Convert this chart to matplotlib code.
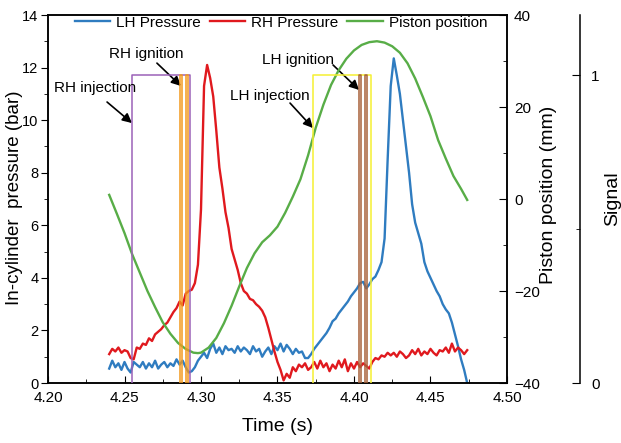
import numpy as np
import matplotlib
matplotlib.use("Agg")
import matplotlib.pyplot as plt
from matplotlib.ticker import MultipleLocator

plt.rcParams['font.family'] = ['Liberation Sans', 'DejaVu Sans']

# sampling times of the two pressure traces (s)
time = np.round(4.240 + 0.002 * np.arange(118), 3)

lh_pressure = [
    0.55, 0.85, 0.6, 0.75, 0.5, 0.8, 0.55, 0.4, 0.8, 0.7,
    0.6, 0.8, 0.55, 0.75, 0.6, 0.85, 0.55, 0.7, 0.8, 0.6,
    0.75, 0.65, 0.9, 0.7, 0.85, 0.6, 0.4, 0.45, 0.6, 0.85,
    1.0, 1.15, 0.95, 1.3, 1.5, 1.15, 1.35, 1.1, 1.4, 1.25,
    1.3, 1.15, 1.4, 1.2, 1.35, 1.25, 1.1, 1.4, 1.2, 1.3,
    1.0, 1.2, 1.35, 1.1, 1.4, 1.25, 1.5, 1.2, 1.45, 1.3,
    1.1, 1.3, 1.15, 1.2, 0.95, 0.95, 1.1, 1.3, 1.45, 1.6,
    1.75, 1.9, 2.1, 2.35, 2.45, 2.65, 2.8, 2.95, 3.1, 3.3,
    3.45, 3.6, 3.8, 3.85, 3.6, 3.75, 3.95, 4.05, 4.3, 4.6,
    5.5, 8.5, 11.3, 12.35, 11.7, 11.0, 10.0, 9.0, 8.0, 6.8,
    6.1, 5.7, 5.3, 4.6, 4.25, 4.0, 3.75, 3.5, 3.3, 3.0,
    2.8, 2.65, 2.3, 1.85, 1.4, 0.9, 0.5, 0.0,
]

rh_pressure = [
    1.1, 1.3, 1.2, 1.35, 1.15, 1.25, 1.2, 0.95, 0.9, 1.35,
    1.3, 1.5, 1.45, 1.7, 1.6, 1.85, 1.95, 2.05, 2.2, 2.3,
    2.5, 2.7, 2.85, 3.1, 2.95, 3.4, 3.5, 3.55, 3.8, 4.5,
    6.6, 11.3, 12.1, 11.6, 10.9, 9.6, 8.2, 7.4, 6.5, 5.9,
    5.1, 4.7, 4.3, 3.8, 3.5, 3.4, 3.2, 3.15, 3.0, 2.9,
    2.75, 2.5, 2.1, 1.65, 1.2, 0.8, 0.5, 0.1, 0.35, 0.2,
    0.6, 0.45, 0.7, 0.6, 0.75, 0.5, 0.6, 0.8, 0.55, 0.85,
    0.6, 0.75, 0.45, 0.7, 0.55, 0.85, 0.6, 0.9, 0.45, 0.75,
    0.55, 0.8, 0.6, 0.75, 0.65, 0.55, 0.8, 0.95, 0.9, 1.05,
    1.0, 1.15, 1.05, 1.15, 1.0, 1.2, 1.1, 0.95, 1.05, 1.25,
    1.1, 1.3, 1.05, 1.2, 1.1, 1.3, 1.15, 1.05, 1.25, 1.2,
    1.35, 1.15, 1.5, 1.2, 1.35, 1.25, 1.1, 1.25,
]

piston_time = [
    4.240, 4.245, 4.250, 4.255, 4.260, 4.265, 4.270, 4.275, 4.280, 4.285,
    4.290, 4.295, 4.298, 4.300, 4.305, 4.310, 4.315, 4.320, 4.325, 4.330,
    4.335, 4.340, 4.345, 4.350, 4.355, 4.360, 4.365, 4.370, 4.375, 4.380,
    4.385, 4.390, 4.395, 4.400, 4.405, 4.410, 4.415, 4.420, 4.425, 4.430,
    4.435, 4.440, 4.445, 4.450, 4.455, 4.460, 4.465, 4.470, 4.474,
]
piston_pos = [
    0.9, -3.2, -7.4, -12.0, -16.0, -20.0, -23.5, -26.8, -29.3, -31.3,
    -32.6, -33.4, -33.5, -33.4, -32.3, -30.2, -27.0, -23.2, -19.0, -15.0,
    -11.8, -9.4, -7.9, -6.0, -3.0, 0.5, 4.3, 9.5, 15.5, 20.5,
    24.8, 28.0, 30.5, 32.3, 33.5, 34.1, 34.3, 34.0, 33.2, 31.8,
    29.5, 26.2, 22.2, 18.0, 12.8, 8.8, 5.0, 2.2, -0.2,
]

# on/off signal windows (start, end) in s
rh_injection = [(4.2549, 4.2925)]
rh_ignition = [(4.2863, 4.2878), (4.2900, 4.2913)]
lh_injection = [(4.3729, 4.4108)]
lh_ignition = [(4.4036, 4.4047), (4.4075, 4.4088)]

fig = plt.figure(figsize=(6.21, 4.43), dpi=100)
ax = fig.add_subplot(111)
fig.subplots_adjust(left=0.0773, right=0.8164, bottom=0.1354, top=0.9661)
ax2 = ax.twinx()
ax3 = ax.twinx()
ax3.spines['right'].set_position(('axes', 1.159))

l_lh, = ax.plot(time, lh_pressure, color='#2f7cc0', lw=1.7, label='LH Pressure')
l_rh, = ax.plot(time, rh_pressure, color='#e0191e', lw=1.7, label='RH Pressure')
l_pis, = ax2.plot(piston_time, piston_pos, color='#58ad47', lw=1.7, label='Piston position')


def pulse(axis, windows, color):
    for t0, t1 in windows:
        axis.plot([t0, t0, t1, t1], [0, 1, 1, 0], color=color, lw=1.1)


pulse(ax3, rh_injection, '#9b62b8')
pulse(ax3, rh_ignition, '#f39a1e')
pulse(ax3, lh_injection, '#f5f032')
pulse(ax3, lh_ignition, '#a8623a')

ax.set_xlim(4.20, 4.50)
ax.set_ylim(0, 14)
ax2.set_ylim(-40, 40)
ax3.set_ylim(0, 1.195)

ax.xaxis.set_major_locator(MultipleLocator(0.05))
ax.xaxis.set_minor_locator(MultipleLocator(0.025))
ax.yaxis.set_major_locator(MultipleLocator(2))
ax.yaxis.set_minor_locator(MultipleLocator(1))
ax2.yaxis.set_major_locator(MultipleLocator(20))
ax2.yaxis.set_minor_locator(MultipleLocator(10))
ax3.yaxis.set_major_locator(MultipleLocator(1))
ax3.yaxis.set_minor_locator(MultipleLocator(0.5))
ax.xaxis.set_major_formatter(matplotlib.ticker.FormatStrFormatter('%.2f'))

ax.tick_params(axis='x', which='both', direction='in', labelsize=11, pad=6)
ax.tick_params(axis='x', which='major', length=5)
ax.tick_params(axis='x', which='minor', length=3)
ax.tick_params(axis='y', which='both', direction='out', labelsize=10.5, pad=2)
ax.tick_params(axis='y', which='major', length=5)
ax.tick_params(axis='y', which='minor', length=3)
for a in (ax2, ax3):
    a.tick_params(axis='y', which='both', direction='in', labelsize=11, pad=5)
    a.tick_params(axis='y', which='major', length=6)
    a.tick_params(axis='y', which='minor', length=3)
ax3.tick_params(axis='y', pad=8)

for a in (ax, ax2, ax3):
    for s in a.spines.values():
        s.set_linewidth(1.1)
ax3.spines['left'].set_visible(False)
ax3.spines['top'].set_visible(False)
ax3.spines['bottom'].set_visible(False)

ax.set_xlabel('Time (s)', fontsize=14, va='center')
ax.xaxis.set_label_coords(0.5, -0.117)
ax.set_ylabel('In-cylinder  pressure (bar)', fontsize=13.5, va='center')
ax.yaxis.set_label_coords(-0.073, 0.503)
ax2.set_ylabel('Piston position (mm)', fontsize=14, va='center')
ax2.yaxis.set_label_coords(1.09, 0.51)
ax3.set_ylabel('Signal', fontsize=14, va='center')
ax3.yaxis.set_label_coords(1.231, 0.5)

# annotations (text + separate arrow)
notes = [
    ('RH injection', (4.2310, 11.22), (4.2386, 10.69), (4.2549, 9.89)),
    ('RH ignition', (4.2641, 12.52), (4.2712, 12.17), (4.2869, 11.30)),
    ('LH injection', (4.3448, 10.92), (4.3582, 10.65), (4.3732, 9.70)),
    ('LH ignition', (4.3637, 12.29), (4.3863, 12.10), (4.4033, 11.15)),
]
for txt, pos, start, tip in notes:
    ax3.text(*ax3.transData.inverted().transform(ax.transData.transform(pos)),
             txt, fontsize=11, ha='center', va='center')
    ax.annotate('', xy=tip, xytext=start,
                arrowprops=dict(arrowstyle='-|>', color='black', lw=1.2,
                                mutation_scale=14, shrinkA=0, shrinkB=0))

ax3.legend([l_lh, l_rh, l_pis], ['LH Pressure', 'RH Pressure', 'Piston position'],
           loc='upper left', bbox_to_anchor=(0.058, 0.998), ncol=3, frameon=False,
           fontsize=11, handlelength=2.3, columnspacing=0.6, handletextpad=0.4,
           borderpad=0, borderaxespad=0)

fig.savefig('out.png', dpi=100)
